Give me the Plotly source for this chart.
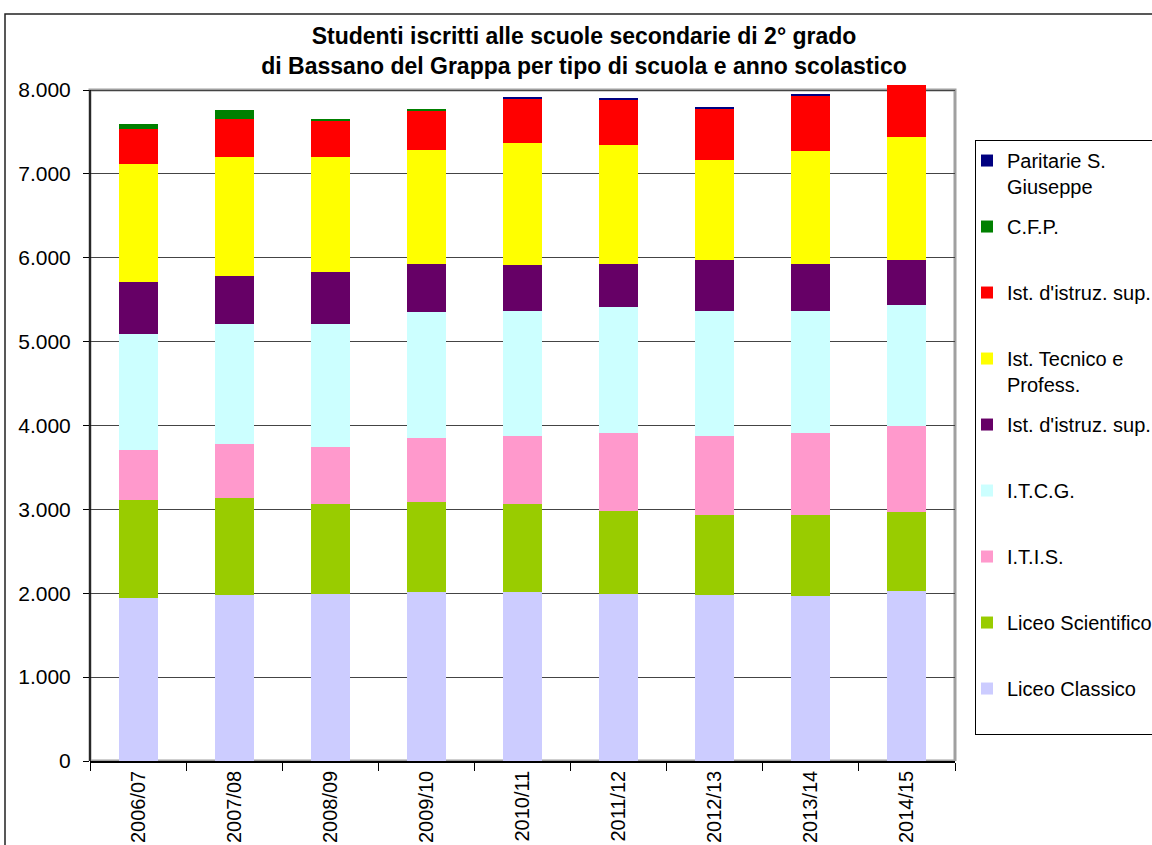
import plotly.graph_objects as go

years = ["2006/07", "2007/08", "2008/09", "2009/10", "2010/11",
         "2011/12", "2012/13", "2013/14", "2014/15"]

liceo_classico = [1940, 1979, 1991, 2015, 2015, 1991, 1979, 1967, 2027]
liceo_scientifico = [1172, 1161, 1073, 1073, 1049, 990, 954, 966, 942]
itis = [596, 639, 680, 763, 811, 930, 942, 978, 1025]
itcg = [1383, 1431, 1466, 1502, 1490, 1502, 1490, 1454, 1443]
ist_sup_a = [620, 572, 620, 572, 548, 512, 608, 560, 536]
ist_tecnico = [1407, 1419, 1371, 1360, 1455, 1419, 1192, 1348, 1467]
ist_sup_b = [417, 453, 429, 465, 525, 537, 609, 655, 620]
cfp = [60, 108, 24, 24, 0, 0, 0, 0, 0]
paritarie = [0, 0, 0, 0, 24, 24, 23, 24, 0]

series = [
    ("Liceo Classico", liceo_classico, "#CCCCFF"),
    ("Liceo Scientifico", liceo_scientifico, "#99CC00"),
    ("I.T.I.S.", itis, "#FF99CC"),
    ("I.T.C.G.", itcg, "#CCFFFF"),
    ("Ist. d'istruz. sup.", ist_sup_a, "#660066"),
    ("Ist. Tecnico e<br>Profess.", ist_tecnico, "#FFFF00"),
    ("Ist. d'istruz. sup.", ist_sup_b, "#FF0000"),
    ("C.F.P.", cfp, "#008000"),
    ("Paritarie S.<br>Giuseppe", paritarie, "#000080"),
]

FONT = "Liberation Sans, Arial, sans-serif"
Y_TOP = 8000
Y_MAX = 8060  # room for the tallest bar, which overshoots the 8.000 border

fig = go.Figure()
n = len(series)
for i, (name, vals, color) in enumerate(series):
    label = name if "<br>" in name else name + "<br>&nbsp;"
    fig.add_trace(go.Bar(
        x=years, y=vals, name=label, marker=dict(color=color, line=dict(width=0)),
        legendgroup="g%d" % i, legendrank=n - i,
    ))

W, H = 1152, 845
L, R, B = 90, 955, 761
Y8000 = 90
scale = (B - Y8000) / Y_TOP
T = B - Y_MAX * scale
pw, ph = R - L, B - T


def px(x):
    return (x - L) / pw


def py(y):
    return (B - y) / ph


shapes = [
    # plot area border (gray), up to 8.000
    dict(type="rect", xref="paper", yref="y", x0=0, x1=1, y0=0, y1=Y_TOP,
         line=dict(color="#A0A0A0", width=3), layer="below"),
    # y axis line
    dict(type="line", xref="paper", yref="y", x0=0, x1=0, y0=0, y1=Y_TOP,
         line=dict(color="black", width=1.5)),
    # outer chart border
    dict(type="rect", xref="paper", yref="paper", x0=px(5), x1=px(1200),
         y0=py(900), y1=py(14), line=dict(color="#222222", width=1.5)),
]

fig.update_layout(
    width=W, height=H,
    margin=dict(l=L, r=W - R, t=T, b=H - B, autoexpand=False),
    paper_bgcolor="white", plot_bgcolor="white",
    barmode="stack", bargap=0.595,
    separators=",.",
    font=dict(family=FONT, size=20, color="black"),
    title=dict(
        text="Studenti iscritti alle scuole secondarie di 2° grado<br>di Bassano del Grappa per tipo di scuola e anno scolastico",
        font=dict(family=FONT, size=23, weight="bold", color="black"),
        x=584 / W, xanchor="center", xref="container",
        y=1 - 44 / H, yanchor="middle", yref="container",
    ),
    legend=dict(
        x=px(975), y=py(140), xanchor="left", yanchor="top",
        bordercolor="black", borderwidth=1, bgcolor="white",
        font=dict(family=FONT, size=20, color="black"),
        traceorder="grouped", tracegroupgap=11, valign="top",
        indentation=-9,
    ),
    shapes=shapes,
    xaxis=dict(
        showline=True, linecolor="black", linewidth=1.5,
        ticks="outside", tickson="boundaries", ticklen=8, tickcolor="black",
        tickangle=-90, tickfont=dict(family=FONT, size=20),
        showgrid=False, fixedrange=True,
    ),
    yaxis=dict(
        range=[0, Y_MAX], tickvals=list(range(0, Y_TOP + 1, 1000)), tickformat=",d",
        showline=False,
        ticks="outside", ticklen=6, tickcolor="black", ticklabelstandoff=8,
        showgrid=True, gridcolor="#444444", gridwidth=1,
        tickfont=dict(family=FONT, size=21), zeroline=False,
    ),
)

fig.write_html("out.html", config={"displayModeBar": False},
               post_script="document.body.style.margin='0';")
